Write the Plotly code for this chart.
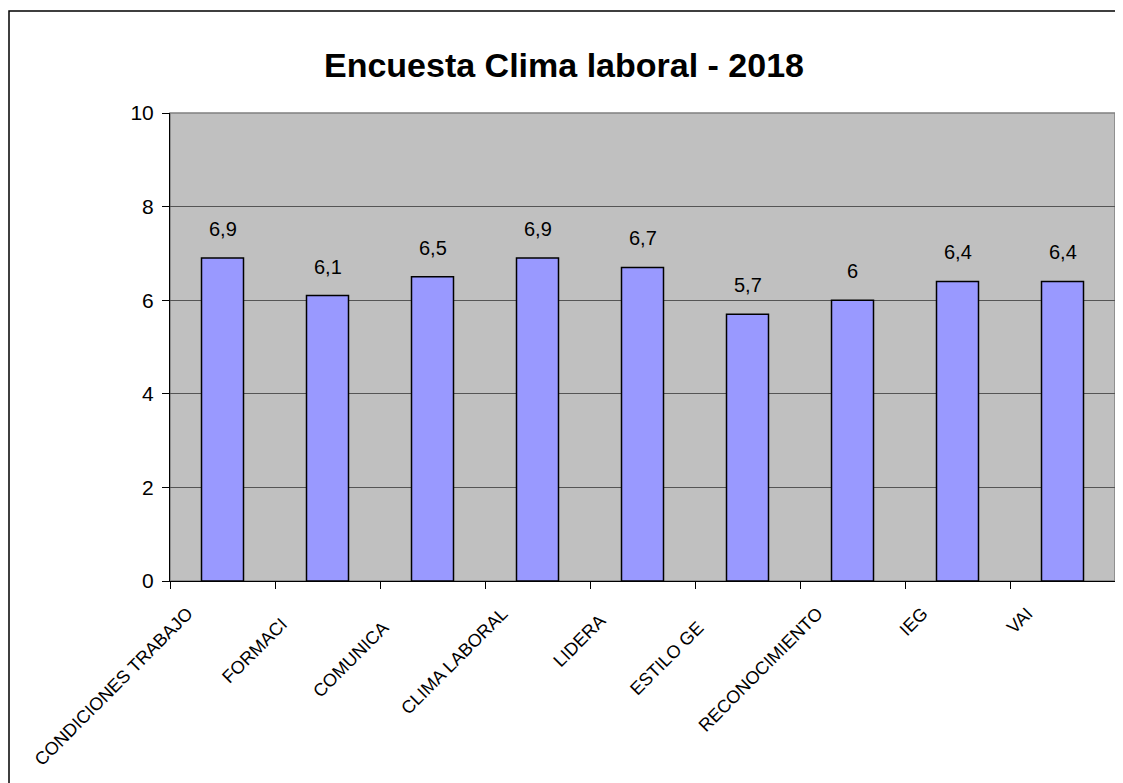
import plotly.graph_objects as go

categories = ["CONDICIONES TRABAJO", "FORMACI", "COMUNICA", "CLIMA LABORAL",
              "LIDERA", "ESTILO GE", "RECONOCIMIENTO", "IEG", "VAI"]
values = [6.9, 6.1, 6.5, 6.9, 6.7, 5.7, 6.0, 6.4, 6.4]
# the reference clips some long names; padding keeps their visible part where it sits
label_pad = [0, 3, 4, 0, 2, 4, 0, 0, 0]
value_labels = [("%g" % v).replace(".", ",") for v in values]
title_text = "Encuesta Clima laboral - 2018"
y_ticks = [0, 2, 4, 6, 8, 10]

tick_text = [c + "\u00a0" * p for c, p in zip(categories, label_pad)]

fig = go.Figure()
fig.add_trace(go.Bar(
    x=categories, y=values,
    marker=dict(color="#9999FF", line=dict(color="black", width=1.5)),
    width=0.4,
    hoverinfo="skip",
))
for c, v, t in zip(categories, values, value_labels):
    fig.add_annotation(x=c, y=v, text=t, showarrow=False, yanchor="bottom",
                       yshift=16, font=dict(size=20, color="black",
                                            family="Liberation Sans, Arial"))

fig.update_layout(
    width=1115, height=775,
    margin=dict(l=162, r=8, t=105, b=202),
    paper_bgcolor="white", plot_bgcolor="#C0C0C0",
    showlegend=False,
    title=dict(text="<b>" + title_text + "</b>", x=556 / 1115, xref="container", xanchor="center",
               y=1 - 57 / 775, yref="container", yanchor="middle",
               font=dict(family="Liberation Sans, Arial", size=34, color="black")),
    font=dict(family="Liberation Sans, Arial", color="black"),
)
fig.update_xaxes(
    type="category", tickson="boundaries", ticks="outside", ticklen=7, tickcolor="black",
    showline=True, linecolor="black", linewidth=1, showgrid=False,
    tickmode="array", tickvals=categories, ticktext=tick_text,
    tickangle=-45, tickfont=dict(size=18, family="Liberation Sans, Arial"),
    ticklabelstandoff=14, ticklabelshift=-35,
    range=[-0.5, len(categories) - 0.5],
)
fig.update_yaxes(
    range=[0, 10], tickvals=y_ticks, ticks="outside", ticklen=7, tickcolor="black",
    showline=True, linecolor="black", linewidth=1,
    gridcolor="#555555", gridwidth=1, zeroline=False,
    ticklabelstandoff=4,
    tickfont=dict(size=21, family="Liberation Sans, Arial"),
)
# plot area frame (right/top) in grey
fig.add_shape(type="rect", xref="paper", yref="paper", x0=0, y0=0, x1=1, y1=1,
              line=dict(color="#808080", width=1.5), layer="below")
# outer chart frame
fig.add_shape(type="rect", xref="paper", yref="paper",
              x0=(9 - 170) / 945, y0=(581 - 795) / 468, x1=(1135 - 170) / 945, y1=(581 - 11) / 468,
              line=dict(color="black", width=1.5))
fig.write_html("out.html")
